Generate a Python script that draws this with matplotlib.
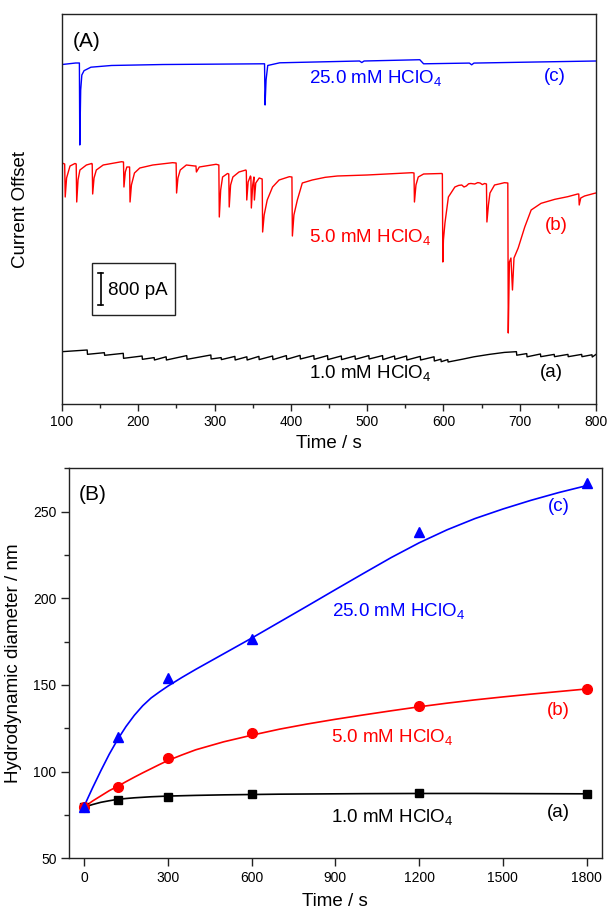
import matplotlib
matplotlib.use('Agg')
import matplotlib.pyplot as plt
from matplotlib.patches import Rectangle
from matplotlib.ticker import MultipleLocator

plt.rcParams['font.family'] = ['Liberation Sans', 'DejaVu Sans']
plt.rcParams['mathtext.fontset'] = 'custom'
plt.rcParams['mathtext.rm'] = 'Liberation Sans'
plt.rcParams['mathtext.it'] = 'Liberation Sans:italic'

# ---- (A) current traces: time (s) and current (pA) relative to each baseline ----
t_c = [100, 118, 122.8, 123.3, 124.5, 126, 128.9, 137.9, 164.9, 232, 363, 365.5,
       366.2, 367.5, 369.7, 385.4, 490, 493, 496, 569, 574, 634, 637, 640, 700, 800]
i_c = [-38, 0, 0, -2050, -675, -300, -192, -105, -62, -38, -20, -20,
       -1050, -425, -62, 5, 50, 12, 50, 82, -20, -2, -45, -2, 18, 50]

t_b = [100, 103.5, 104.2, 106, 110.5, 117, 118.6, 119.3, 121, 123.5, 132, 139,
       139.6, 140.2, 142, 145, 154, 178, 180.6, 181.2, 183, 185, 188.6, 189.2,
       191, 195, 202, 219, 245, 249.6, 250.2, 252, 255, 263, 274, 275.6, 276.2,
       280, 302, 305.6, 306.2, 308, 310.5, 317, 318.6, 319.2, 321, 324, 332, 341,
       341.6, 342.2, 344, 347, 347.6, 348.2, 350, 351.6, 352.2, 354, 358.5, 362.4,
       363, 365, 369, 376, 384.6, 398, 401.4, 402, 404, 408.5, 415, 428, 445, 461,
       500, 559, 561.4, 562, 564, 567, 574, 598, 598.6, 599.2, 600, 602, 606.5,
       615, 620, 624, 627, 630, 633, 636, 641, 645, 648, 651, 654, 656.4, 657,
       659, 661, 667, 674, 680, 684.4, 685, 686.5, 688.5, 690.5, 692.5, 698, 706.6,
       715, 728, 746, 763, 776, 777.4, 778, 780, 785, 798, 800]
i_b = [0, -25, -850, -375, -75, -12, -25, -975, -425, -175, -50, -12,
       -25, -775, -375, -175, -50, 32, 25, -600, -225, -100, -100, -975,
       -550, -250, -125, -50, 8, 0, -750, -375, -175, -50, -75, -75, -225,
       -100, -32, -50, -1350, -675, -350, -262, -275, -1100, -550, -350, -225, -175,
       -200, -925, -475, -325, -350, -1125, -550, -350, -925, -500, -375, -400,
       -1725, -1300, -925, -600, -425, -342, -350, -1825, -1300, -925, -500, -425, -358, -325,
       -300, -242, -250, -975, -550, -350, -275, -262, -275, -2475, -1925, -1500, -850,
       -600, -560, -550, -600, -575, -520, -512, -525, -490, -500, -540, -512, -525, -1475,
       -1050, -750, -550, -520, -492, -500, -4250, -2475, -2375, -3175, -2375, -2125, -1600,
       -1175, -1008, -908, -842, -775, -775, -1050, -875, -825, -758, -750]

t_a = [100, 133, 133.4, 155.5, 155.9, 180.3, 180.7, 205, 205.4, 220.8, 221.2,
       236.5, 236.9, 263.5, 263.9, 295.1, 295.5, 308.6, 309, 326.6, 327, 342.3,
       342.7, 358.1, 358.5, 376.1, 376.5, 394.1, 394.5, 412.1, 412.5, 430.1, 430.5,
       448.1, 448.5, 466.1, 466.5, 484.1, 484.5, 502.2, 502.6, 520.2, 520.6, 535.9,
       536.3, 551.7, 552.1, 569.7, 570.1, 587.7, 588.1, 596.7, 597.1, 605.7, 606.1,
       625, 640, 660, 680, 695.7, 696.1, 709.2, 709.6, 727.2, 727.6, 745.2, 745.6,
       763.2, 763.6, 781.2, 781.6, 794.7, 795.1, 800]
i_a = [8, 50, -58, -17, -83, -33, -158, -100, -183, -140, -200,
       -120, -200, -90, -183, -75, -175, -140, -190, -110, -200, -120,
       -200, -110, -190, -100, -190, -90, -183, -85, -175, -90, -183,
       -90, -190, -100, -190, -100, -183, -90, -175, -90, -190, -100,
       -183, -100, -200, -110, -200, -120, -225, -180, -242, -190, -250,
       -180, -120, -60, -10, 8, -80, -40, -120, -50, -117, -60, -117,
       -60, -117, -60, -117, -70, -125, -60]

# vertical stacking of the three traces (pA)
offset_a, offset_b, offset_c = 1300, 6025, 8525
scale_bar_pA = 800

# ---- (B) hydrodynamic diameter vs time ----
t_dls = [0, 120, 300, 600, 1200, 1800]
d_a = [79.5, 83.6, 85.2, 86.9, 87.9, 87.1]
d_b = [79.5, 91.3, 107.7, 122.1, 138.1, 147.7]
d_c = [79.8, 120.2, 154.2, 176.8, 238.1, 266.3]

# fitted growth curves
t_fit = [0, 30, 60, 90, 120, 150, 180, 210, 240, 270, 300, 350, 400, 500, 600,
         700, 800, 900, 1000, 1100, 1200, 1300, 1400, 1500, 1600, 1700, 1800]
fit_a = [79.5, 81, 82.3, 83.2, 84, 84.5, 84.9, 85.2, 85.5, 85.7, 85.9, 86.1, 86.3,
         86.6, 86.8, 87, 87.1, 87.2, 87.3, 87.35, 87.4, 87.4, 87.4, 87.35, 87.3,
         87.25, 87.2]
fit_b = [79.5, 83, 86, 89, 91.5, 94.2, 96.8, 99.3, 101.7, 104.1, 106.4, 109.6, 112.6,
         117.2, 121, 124.5, 127.5, 130.2, 132.7, 135.1, 137.4, 139.5, 141.4, 143.1,
         144.7, 146.2, 147.7]
fit_c = [80, 90.5, 100.5, 110, 118.5, 126, 132.5, 138, 142.5, 146, 149.3, 154.3,
         159, 168, 177, 186.3, 195.6, 205, 214.3, 223.5, 232, 239.5, 246, 251.5,
         256.5, 261, 265]

labels = ['1.0 mM HClO$_4$', '5.0 mM HClO$_4$', '25.0 mM HClO$_4$']
tags = ['(a)', '(b)', '(c)']
colors = ['black', '#ff0000', '#0000ff']

spine_c = '#222222'
W, H = 609, 917
fig = plt.figure(figsize=(W / 100, H / 100), dpi=100)
axA = fig.add_axes([62 / W, 1 - 404 / H, 534 / W, 390 / H])
axB = fig.add_axes([69 / W, 1 - 858.3 / H, 532.7 / W, 390 / H])

for ax in (axA, axB):
    for s in ax.spines.values():
        s.set_linewidth(1.0)
        s.set_color(spine_c)
    ax.tick_params(which='both', direction='out', color=spine_c, width=1.0,
                   top=False, right=False, labelsize=10, pad=3)

# ---- panel A ----
axA.plot(t_a, [v + offset_a for v in i_a], color=colors[0], lw=1.0)
axA.plot(t_b, [v + offset_b for v in i_b], color=colors[1], lw=1.0)
axA.plot(t_c, [v + offset_c for v in i_c], color=colors[2], lw=1.0)
axA.set_xlim(100, 800)
axA.set_ylim(0, 9750)
axA.xaxis.set_major_locator(MultipleLocator(100))
axA.xaxis.set_minor_locator(MultipleLocator(50))
axA.tick_params(axis='x', which='major', length=5)
axA.tick_params(axis='x', which='minor', length=3)
axA.set_yticks([])
axA.set_xlabel('Time / s', fontsize=13.5, labelpad=4)
axA.set_ylabel('Current Offset', fontsize=13.5, labelpad=24)
axA.text(0.02, 0.93, '(A)', transform=axA.transAxes, fontsize=15, va='center', ha='left')

posA = [(0.577, 0.079), (0.577, 0.428), (0.587, 0.835)]
tagA = [(0.917, 0.08), (0.925, 0.457), (0.922, 0.84)]
for k in range(3):
    axA.text(*posA[k], labels[k], transform=axA.transAxes, color=colors[k],
             fontsize=13.5, ha='center', va='center')
    axA.text(*tagA[k], tags[k], transform=axA.transAxes, color=colors[k],
             fontsize=13.5, ha='center', va='center')

# scale bar
axA.add_patch(Rectangle((0.056, 0.228), 0.155, 0.134, transform=axA.transAxes,
                        fill=False, lw=1.0, ec=spine_c))
bar_t = 150.5
bar_lo = 2475
axA.plot([bar_t, bar_t], [bar_lo, bar_lo + scale_bar_pA], color='black', lw=1.2)
axA.plot([bar_t - 3.5, bar_t + 3.5], [bar_lo, bar_lo], color='black', lw=1.2)
axA.plot([bar_t - 3.5, bar_t + 3.5], [bar_lo + scale_bar_pA] * 2, color='black', lw=1.2)
axA.text(0.087, 0.292, '%d pA' % scale_bar_pA, transform=axA.transAxes,
         fontsize=13.5, va='center', ha='left')

# ---- panel B ----
markers = ['s', 'o', '^']
msizes = [6, 7, 7.5]
for d, fit, c, m, ms in zip([d_a, d_b, d_c], [fit_a, fit_b, fit_c], colors, markers, msizes):
    axB.plot(t_fit, fit, color=c, lw=1.2, zorder=2)
    axB.plot(t_dls, d, ls='none', marker=m, ms=ms, color=c, zorder=3)
axB.set_xlim(-54, 1854)
axB.set_ylim(50, 275)
axB.xaxis.set_major_locator(MultipleLocator(300))
axB.yaxis.set_major_locator(MultipleLocator(50))
axB.yaxis.set_minor_locator(MultipleLocator(25))
axB.tick_params(which='major', length=6)
axB.tick_params(axis='y', which='minor', length=3.5)
axB.set_xlabel('Time / s', fontsize=13.5, labelpad=6)
axB.set_ylabel('Hydrodynamic diameter / nm', fontsize=13.5, labelpad=8)
axB.text(0.019, 0.934, '(B)', transform=axB.transAxes, fontsize=15, va='center', ha='left')

posB = [(0.606, 0.106), (0.606, 0.310), (0.619, 0.634)]
tagB = [(0.918, 0.117), (0.918, 0.380), (0.920, 0.903)]
for k in range(3):
    axB.text(*posB[k], labels[k], transform=axB.transAxes, color=colors[k],
             fontsize=13.5, ha='center', va='center')
    axB.text(*tagB[k], tags[k], transform=axB.transAxes, color=colors[k],
             fontsize=13.5, ha='center', va='center')

fig.savefig('out.png', dpi=100)
